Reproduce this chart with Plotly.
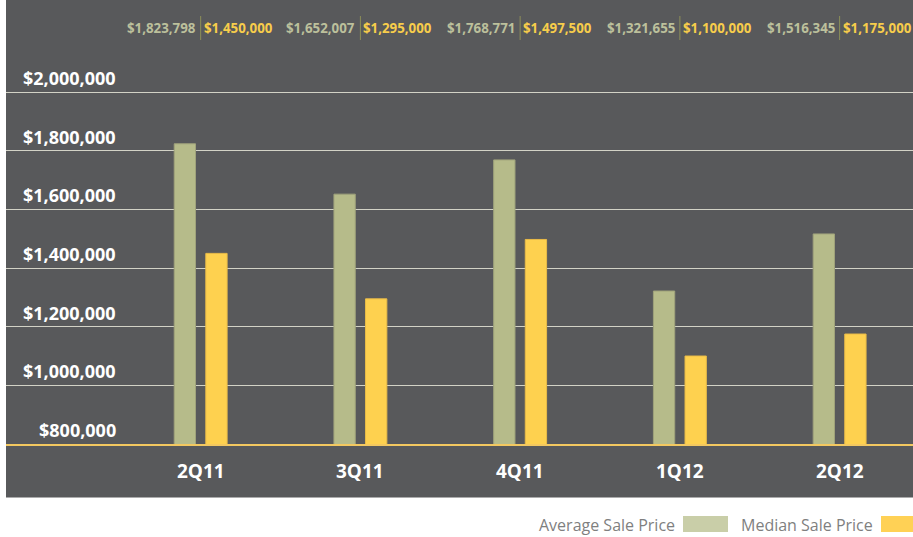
import plotly.graph_objects as go

# ---- data ----
quarters = ["2Q11", "3Q11", "4Q11", "1Q12", "2Q12"]
avg_price = [1823798, 1652007, 1768771, 1321655, 1516345]
median_price = [1450000, 1295000, 1497500, 1100000, 1175000]
y_ticks = [800000, 1000000, 1200000, 1400000, 1600000, 1800000, 2000000]
series_names = ["Average Sale Price", "Median Sale Price"]

# ---- style ----
PANEL = "#58595b"
AVG = "#b6bb8a"
AVG_LINE = "#9fa27b"
MED = "#fed14f"
MED_LINE = "#e9bb48"
AVG_LABEL = "#bcc09c"
MED_LABEL = "#f7cd4b"
GRID = "#d2d2c6"
BASE = "#f3c860"

W, H = 913, 537
ML, MR, MT, MB = 6, 0, 0, 93
PH = H - MT - MB  # plot height in px
PW = W - ML - MR


def px_x(px):
    return (px - ML) / PW


def px_y(py):
    return (H - MB - py) / PH


fig = go.Figure()
fig.add_trace(go.Bar(
    x=quarters, y=avg_price, name=series_names[0],
    marker=dict(color=AVG, line=dict(color=AVG_LINE, width=1)),
    width=0.1334, offset=-0.1656,
))
fig.add_trace(go.Bar(
    x=quarters, y=median_price, name=series_names[1],
    marker=dict(color=MED, line=dict(color=MED_LINE, width=1)),
    width=0.1334, offset=0.0322,
))

annotations = []
shapes = []

# lower part of dark panel (below baseline)
shapes.append(dict(type="rect", xref="paper", yref="paper",
                   x0=0, x1=1, y0=px_y(497.5), y1=0,
                   fillcolor=PANEL, line=dict(width=0), layer="below"))

# y tick labels
for v in y_ticks:
    annotations.append(dict(
        x=px_x(118), xref="paper", y=v, yref="y",
        text="${:,}".format(v), showarrow=False,
        xanchor="right", yanchor="middle", yshift=14,
        font=dict(family="Open Sans", size=18, color="#ffffff", weight="bold"),
    ))

# x category labels
for q in quarters:
    annotations.append(dict(
        x=q, xref="x", y=px_y(470.5), yref="paper",
        text=q, showarrow=False, xanchor="center", yanchor="middle",
        font=dict(family="Open Sans", size=19, color="#ffffff", weight="bold"),
    ))

# top value labels
for q, a, m in zip(quarters, avg_price, median_price):
    annotations.append(dict(
        x=q, xref="x", y=px_y(27.7), yref="paper",
        text="${:,}".format(a), showarrow=False,
        xanchor="right", yanchor="middle", xshift=-3,
        font=dict(family="Open Sans", size=13.3, color=AVG_LABEL, weight="bold"),
    ))
    annotations.append(dict(
        x=q, xref="x", y=px_y(27.7), yref="paper",
        text="${:,}".format(m), showarrow=False,
        xanchor="left", yanchor="middle", xshift=1,
        font=dict(family="Open Sans", size=13.3, color=MED_LABEL, weight="bold"),
    ))
    shapes.append(dict(type="line", xref="x", yref="paper",
                       x0=q, x1=q, y0=px_y(40), y1=px_y(16),
                       line=dict(color="#8c8f58", width=1)))

# custom legend
legend_items = [
    (series_names[0], 677, 683, 728, "#c9cea8"),
    (series_names[1], 875, 881, 926, "#ffd155"),
]
for name, tx, sx0, sx1, col in legend_items:
    annotations.append(dict(
        x=px_x(tx), xref="paper", y=px_y(525), yref="paper",
        text=name, showarrow=False, xanchor="right", yanchor="middle",
        font=dict(family="Open Sans", size=16, color="#7f7f7f"),
    ))
    shapes.append(dict(type="rect", xref="paper", yref="paper",
                       x0=px_x(sx0), x1=px_x(sx1), y0=px_y(532), y1=px_y(516),
                       fillcolor=col, line=dict(width=0)))

top_val = 800000 + PH / 58.65 * 200000

fig.update_layout(
    width=W, height=H,
    margin=dict(l=ML, r=MR, t=MT, b=MB),
    paper_bgcolor="#ffffff",
    plot_bgcolor=PANEL,
    showlegend=False,
    barmode="overlay",
    annotations=annotations,
    shapes=shapes,
    xaxis=dict(
        type="category", categoryorder="array", categoryarray=quarters,
        range=[-1.2186, 4.4594], showticklabels=False, showgrid=False,
        showline=True, linecolor=BASE, linewidth=2, ticks="", zeroline=False,
        fixedrange=True,
    ),
    yaxis=dict(
        range=[800000, top_val], tickvals=y_ticks, showticklabels=False,
        showgrid=True, gridcolor=GRID, gridwidth=1, zeroline=False,
        ticks="", fixedrange=True,
    ),
)

fig.write_html(
    "out.html",
    config={"displayModeBar": False},
    post_script="document.body.style.margin='0';document.body.style.overflow='hidden';",
)
